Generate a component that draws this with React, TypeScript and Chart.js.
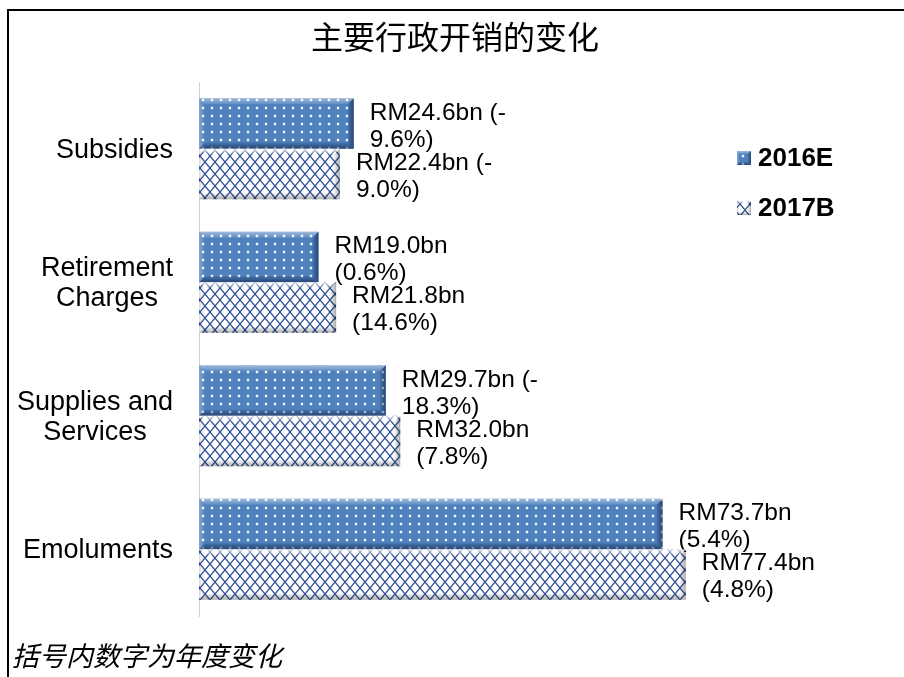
import React, { useEffect, useRef } from 'react';
import { Chart, registerables } from 'chart.js';

Chart.register(...registerables);

// ---- data ----
const categories: string[][] = [['Subsidies'], ['Retirement', 'Charges'], ['Supplies and', 'Services'], ['Emoluments']];
const seriesNames = ['2016E', '2017B'];
const values2016E = [24.6, 19.0, 29.7, 73.7];
const values2017B = [22.4, 21.8, 32.0, 77.4];
const labels2016E: string[][] = [['RM24.6bn (-', '9.6%)'], ['RM19.0bn', '(0.6%)'], ['RM29.7bn (-', '18.3%)'], ['RM73.7bn', '(5.4%)']];
const labels2017B: string[][] = [['RM22.4bn (-', '9.0%)'], ['RM21.8bn', '(14.6%)'], ['RM32.0bn', '(7.8%)'], ['RM77.4bn', '(4.8%)']];
const titleText = '主要行政开销的变化';
const footerText = '括号内数字为年度变化';

const LATIN = '"Liberation Sans", Arial, sans-serif';
const CJK = '"Noto Sans CJK SC", sans-serif';

function makeDotPattern(ctx: CanvasRenderingContext2D) {
  const c = document.createElement('canvas');
  c.width = 9;
  c.height = 8;
  const g = c.getContext('2d')!;
  g.fillStyle = '#4F81BD';
  g.fillRect(0, 0, 9, 8);
  g.fillStyle = 'rgba(255,255,255,0.2)';
  g.fillRect(3, 3, 4, 2);
  g.fillRect(4, 2, 2, 4);
  g.fillStyle = 'rgba(255,255,255,0.9)';
  g.fillRect(4, 3, 2, 2);
  return ctx.createPattern(c, 'repeat')!;
}

function makeLatticePattern(ctx: CanvasRenderingContext2D) {
  const c = document.createElement('canvas');
  c.width = 10;
  c.height = 12;
  const g = c.getContext('2d')!;
  g.fillStyle = '#ffffff';
  g.fillRect(0, 0, 10, 12);
  g.strokeStyle = '#2f4f96';
  g.lineWidth = 1.3;
  g.beginPath();
  g.moveTo(-1, -1.2);
  g.lineTo(11, 13.2);
  g.moveTo(11, -1.2);
  g.lineTo(-1, 13.2);
  g.stroke();
  return ctx.createPattern(c, 'repeat')!;
}

function poly(ctx: CanvasRenderingContext2D, pts: number[][], fill: CanvasGradient) {
  ctx.beginPath();
  ctx.moveTo(pts[0][0], pts[0][1]);
  for (let i = 1; i < pts.length; i++) ctx.lineTo(pts[i][0], pts[i][1]);
  ctx.closePath();
  ctx.fillStyle = fill;
  ctx.fill();
}

function bevel(ctx: CanvasRenderingContext2D, l: number, t: number, r: number, b: number, blue: boolean, size: number) {
  const s = Math.min(size, (r - l) / 2, (b - t) / 2);
  ctx.save();
  let g = ctx.createLinearGradient(0, t, 0, t + s);
  g.addColorStop(0, blue ? 'rgba(255,255,255,0.45)' : 'rgba(255,255,255,0.85)');
  g.addColorStop(1, 'rgba(255,255,255,0.08)');
  poly(ctx, [[l, t], [r, t], [r - s, t + s], [l + s, t + s]], g);

  g = ctx.createLinearGradient(0, b - s, 0, b);
  g.addColorStop(0, blue ? 'rgba(10,30,70,0.15)' : 'rgba(0,0,0,0.04)');
  g.addColorStop(1, blue ? 'rgba(10,30,70,0.6)' : 'rgba(0,0,0,0.32)');
  poly(ctx, [[l, b], [r, b], [r - s, b - s], [l + s, b - s]], g);

  g = ctx.createLinearGradient(l, 0, l + s, 0);
  g.addColorStop(0, blue ? 'rgba(255,255,255,0.3)' : 'rgba(0,0,0,0.15)');
  g.addColorStop(1, 'rgba(255,255,255,0)');
  poly(ctx, [[l, t], [l + s, t + s], [l + s, b - s], [l, b]], g);

  g = ctx.createLinearGradient(r - s, 0, r, 0);
  g.addColorStop(0, blue ? 'rgba(10,30,70,0.15)' : 'rgba(0,0,0,0.04)');
  g.addColorStop(1, blue ? 'rgba(10,30,70,0.6)' : 'rgba(0,0,0,0.32)');
  poly(ctx, [[r, t], [r - s, t + s], [r - s, b - s], [r, b]], g);
  ctx.restore();
}

export default function App() {
  const ref = useRef<HTMLCanvasElement>(null);

  useEffect(() => {
    const canvas = ref.current!;
    const ctx0 = canvas.getContext('2d')!;
    const dots = makeDotPattern(ctx0);
    const lattice = makeLatticePattern(ctx0);
    const dataLabels = [labels2016E, labels2017B];

    const deco = {
      id: 'deco',
      beforeDraw(chart: any) {
        const ctx = chart.ctx as CanvasRenderingContext2D;
        ctx.save();
        ctx.fillStyle = '#ffffff';
        ctx.fillRect(0, 0, chart.width, chart.height);
        ctx.restore();
      },
      afterDatasetsDraw(chart: any) {
        const ctx = chart.ctx as CanvasRenderingContext2D;
        chart.data.datasets.forEach((ds: any, di: number) => {
          const meta = chart.getDatasetMeta(di);
          meta.data.forEach((el: any, i: number) => {
            const p = el.getProps(['x', 'y', 'base', 'height'], true);
            const l = Math.min(p.base, p.x);
            const r = Math.max(p.base, p.x);
            const t = p.y - p.height / 2;
            const b = p.y + p.height / 2;
            bevel(ctx, l, t, r, b, di === 0, 6);
            const lines = dataLabels[di][i];
            ctx.save();
            ctx.fillStyle = '#000000';
            ctx.font = `24.5px ${LATIN}`;
            ctx.textAlign = 'left';
            ctx.textBaseline = 'alphabetic';
            lines.forEach((ln: string, j: number) => {
              const y = p.y + (j - (lines.length - 1) / 2) * 27 + 9.5;
              ctx.fillText(ln, r + 16, y);
            });
            ctx.restore();
          });
        });
      },
      afterDraw(chart: any) {
        const ctx = chart.ctx as CanvasRenderingContext2D;
        ctx.save();
        // frame
        ctx.fillStyle = '#000000';
        ctx.fillRect(7, 9, 897, 2);
        ctx.fillRect(7, 9, 2, 668);
        // title
        ctx.font = `32px ${CJK}`;
        ctx.textAlign = 'center';
        ctx.textBaseline = 'middle';
        ctx.fillText(titleText, 455, 37);
        // category labels
        const yScale = chart.scales.y;
        ctx.font = `27px ${LATIN}`;
        ctx.textBaseline = 'alphabetic';
        categories.forEach((lines, i) => {
          const cy = yScale.getPixelForTick(i);
          const w = Math.max(...lines.map((s) => ctx.measureText(s).width));
          const cx = 173 - w / 2;
          lines.forEach((ln, j) => {
            ctx.fillText(ln, cx, cy + (j - (lines.length - 1) / 2) * 30 + 9);
          });
        });
        // legend
        const pats = [dots, lattice];
        const legY = [151, 201];
        seriesNames.forEach((name, k) => {
          ctx.fillStyle = pats[k];
          ctx.fillRect(737, legY[k], 14, 14);
          bevel(ctx, 737, legY[k], 751, legY[k] + 14, k === 0, 3);
          ctx.fillStyle = '#000000';
          ctx.font = `bold 26px ${LATIN}`;
          ctx.textAlign = 'left';
          ctx.textBaseline = 'alphabetic';
          ctx.fillText(name, 758, legY[k] + 15);
        });
        // footer
        ctx.font = `italic 27px ${CJK}`;
        ctx.textAlign = 'left';
        ctx.textBaseline = 'middle';
        ctx.fillText(footerText, 12, 656);
        ctx.restore();
      },
    };

    const chart = new Chart(canvas, {
      type: 'bar',
      data: {
        labels: categories,
        datasets: [
          { label: seriesNames[0], data: values2016E, backgroundColor: dots, borderWidth: 0, categoryPercentage: 0.755, barPercentage: 1 },
          { label: seriesNames[1], data: values2017B, backgroundColor: lattice, borderWidth: 0, categoryPercentage: 0.755, barPercentage: 1 },
        ],
      },
      options: {
        indexAxis: 'y',
        animation: false,
        responsive: false,
        maintainAspectRatio: false,
        layout: { padding: { top: 82, bottom: 61, left: 0, right: 76 } },
        scales: {
          x: { display: false, min: 0, max: 100 },
          y: {
            grid: { display: false, drawTicks: false },
            border: { display: true, color: '#d0d0d0', width: 1 },
            ticks: { display: false },
            afterFit: (s: any) => {
              s.width = 199;
            },
          },
        },
        plugins: {
          legend: { display: false },
          title: { display: false },
          tooltip: { enabled: false },
        },
      } as any,
      plugins: [deco],
    });
    return () => chart.destroy();
  }, []);

  return (
    <div style={{ position: 'absolute', left: 0, top: 0, width: 904, height: 677, overflow: 'hidden' }}>
      <canvas ref={ref} width={904} height={677} style={{ display: 'block', width: 904, height: 677 }} />
    </div>
  );
}
